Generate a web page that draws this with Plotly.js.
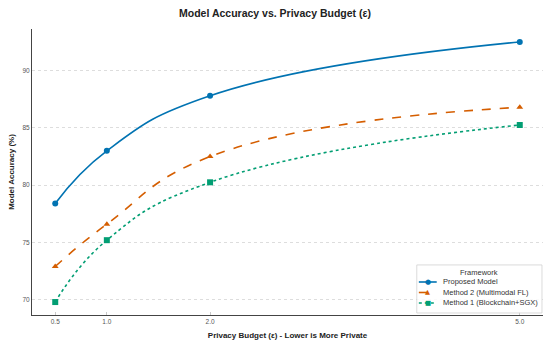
<!DOCTYPE html>
<html><head><meta charset="utf-8">
<script src="https://cdn.plot.ly/plotly-3.0.1.min.js"></script>
<style>html,body{margin:0;padding:0;background:#fff}#c{width:550px;height:346px}</style>
</head><body><div id="c"></div>
<script>
const epsilon = [0.5, 1.0, 2.0, 5.0];
const proposed = [78.4, 83.0, 87.8, 92.5];
const method2 = [72.9, 76.6, 82.5, 86.8];
const method1 = [69.8, 75.2, 80.25, 85.25];
const seriesNames = ["Proposed Model", "Method 2 (Multimodal FL)", "Method 1 (Blockchain+SGX)"];
const xTickLabels = ["0.5", "1.0", "2.0", "5.0"];
const yTicks = [70, 75, 80, 85, 90];
const legendTitle = "Framework";

const colors = ["#0173b2", "#d55e00", "#029e73"];
const dashes = ["solid", "dash", "dot"];
const symbols = ["circle", "triangle-up", "square"];
const glyphs = ["●", "▲", "■"];
const series = [proposed, method2, method1];

const traces = series.map((ys, i) => ({
  x: epsilon, y: ys, name: seriesNames[i], type: "scatter", mode: "lines+markers",
  showlegend: false,
  line: {color: colors[i], width: 1.6, dash: dashes[i], shape: "spline", smoothing: 1.3},
  marker: {symbol: symbols[i], size: 6, color: colors[i]}
}));

// legend drawn as decoration (paper coordinates)
const L = {x0: 0.753, x1: 0.998, y0: 0.007, y1: 0.175, rowY: [0.1154, 0.0787, 0.042], lx0: 0.757, lx1: 0.792, mx: 0.7745, tx: 0.800};
const shapes = [{type: "rect", xref: "paper", yref: "paper", x0: L.x0, x1: L.x1, y0: L.y0, y1: L.y1,
  line: {color: "#d0d0d0", width: 0.8}, fillcolor: "rgba(255,255,255,0.85)", layer: "above"}];
const annotations = [{xref: "paper", yref: "paper", x: (L.x0 + L.x1) / 2, y: 0.150, text: legendTitle, showarrow: false,
  xanchor: "center", yanchor: "middle", font: {size: 7.5, color: "#333"}}];
seriesNames.forEach((n, i) => {
  shapes.push({type: "line", xref: "paper", yref: "paper", x0: L.lx0, x1: L.lx1, y0: L.rowY[i], y1: L.rowY[i],
    line: {color: colors[i], width: 1.6, dash: dashes[i]}, layer: "above"});
  annotations.push({xref: "paper", yref: "paper", x: L.mx, y: L.rowY[i], text: glyphs[i], showarrow: false,
    xanchor: "center", yanchor: "middle", font: {size: i === 0 ? 7 : 6.5, color: colors[i], family: "DejaVu Sans"}});
  annotations.push({xref: "paper", yref: "paper", x: L.tx, y: L.rowY[i], text: n, showarrow: false,
    xanchor: "left", yanchor: "middle", font: {size: 7.5, color: "#333"}});
});

const font = "Liberation Sans, Arial, sans-serif";
const layout = {
  width: 550, height: 346,
  margin: {l: 32, r: 7, t: 29, b: 31},
  paper_bgcolor: "#fff", plot_bgcolor: "#fff",
  font: {family: font, color: "#333"},
  title: {text: "<b>Model Accuracy vs. Privacy Budget (ε)</b>", x: 0.5, xanchor: "center", y: 0.962, yanchor: "middle", font: {size: 10.5, color: "#222", family: font}},
  xaxis: {
    range: [0.275, 5.225], tickvals: epsilon, ticktext: xTickLabels,
    showgrid: false, zeroline: false, showline: true, linecolor: "#444", linewidth: 1,
    ticks: "inside", ticklen: 3, tickcolor: "#bbb", tickwidth: 0.8,
    tickfont: {size: 6.5, color: "#555"},
    title: {text: "<b>Privacy Budget (ε) - Lower is More Private</b>", font: {size: 8, color: "#222"}, standoff: 8}
  },
  yaxis: {
    range: [68.67, 93.63], tickvals: yTicks,
    showgrid: true, gridcolor: "#d4d4d4", gridwidth: 0.8, griddash: "dot",
    zeroline: false, showline: true, linecolor: "#444", linewidth: 1,
    ticks: "", tickfont: {size: 6.5, color: "#555"},
    title: {text: "<b>Model Accuracy (%)</b>", font: {size: 8, color: "#222"}, standoff: 6}
  },
  shapes: shapes,
  annotations: annotations,
  showlegend: false
};
Plotly.newPlot("c", traces, layout, {displayModeBar: false, staticPlot: true});
</script></body></html>
